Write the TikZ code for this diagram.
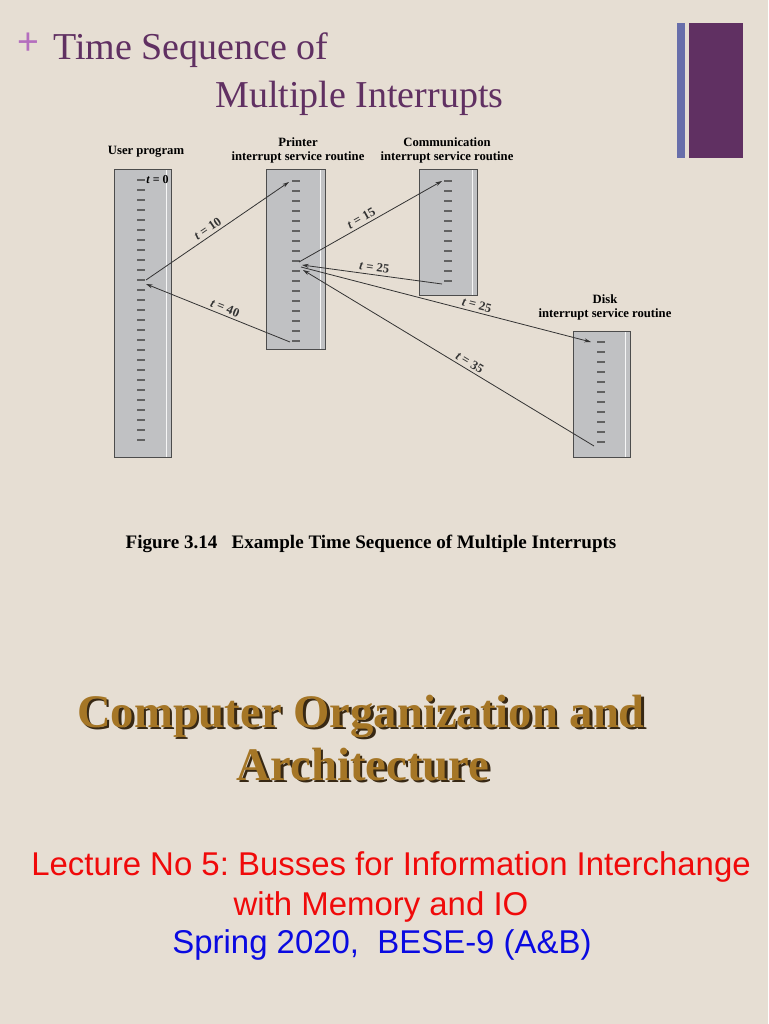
\documentclass[tikz,border=0pt]{standalone}
\usepackage{fontspec}
\setmainfont{Liberation Serif}
\newfontfamily\arialfont{Liberation Sans}
\usetikzlibrary{positioning, arrows.meta}
\definecolor{paper}{RGB}{230,222,211}
\definecolor{plum}{RGB}{96,48,98}
\definecolor{slate}{RGB}{104,110,170}
\definecolor{orchid}{RGB}{180,110,190}
\definecolor{panel}{RGB}{192,193,195}
\definecolor{gold}{RGB}{165,118,38}
\definecolor{umber}{RGB}{55,40,20}
\definecolor{lecred}{RGB}{240,10,10}
\definecolor{lecblue}{RGB}{10,10,225}
\frenchspacing
\newcommand\shadowed[1]{\makebox[0pt][l]{\hspace{2pt}\raisebox{-2pt}{\textcolor{umber}{#1}}}\textcolor{gold}{#1}}

\begin{document}
\begin{tikzpicture}[
  x=0.75pt, y=-0.75pt,
  font=\bfseries\fontsize{9.5}{10.5}\selectfont,
  isr/.style={draw=black!70, line width=1pt, fill=panel, anchor=north west, inner sep=0pt},
  strip/.style={white!85!panel, line width=1.2pt},
  tick/.style={black!62, line width=1.6pt},
  flow/.style={-{Stealth[length=5pt, width=3pt]}, black!80, line width=0.6pt},
  tlab/.style={font=\bfseries\fontsize{9.5}{10}\selectfont, sloped, above, inner sep=2pt},
  hdr/.style={align=center, inner sep=0pt},
  heading/.style={anchor=base west, text=plum, inner sep=0pt, font=\fontsize{28.5}{30}\selectfont},
  cotitle/.style={anchor=base, inner sep=0pt, font=\bfseries\fontsize{35}{40}\selectfont},
  lecline/.style={anchor=base, inner sep=0pt, font=\arialfont\mdseries\fontsize{24.7}{28}\selectfont}
]
\fill[paper] (0,0) rectangle (768,1024);
\useasboundingbox (0,0) rectangle (768,1024);

% slide heading
\node[text=orchid, font=\arialfont\fontsize{28}{30}\selectfont, inner sep=0pt] (plus) at (28,44) {+};
\node[heading] (head1) at (53,60) {Time Sequence of};
\node[heading] (head2) at (215,108) {Multiple Interrupts};
\fill[slate] (677,23) rectangle (685,158);
\fill[plum] (689,23) rectangle (743,158);

% routine columns
\node[isr, minimum width=42.75pt, minimum height=216pt] (user) at (114,169) {};
\node[isr, minimum width=44.25pt, minimum height=135pt] (prn) at (266,169) {};
\node[isr, minimum width=43.5pt, minimum height=94.5pt] (comm) at (419,169) {};
\node[isr, minimum width=42.75pt, minimum height=94.5pt] (disk) at (573,331) {};
\foreach \col in {user, prn, comm, disk}
  \draw[strip] ([xshift=-4.5pt, yshift=-1pt]\col.north east) -- ([xshift=-4.5pt, yshift=1pt]\col.south east);

\node[hdr] (userlab) at (146,152) {User program};
\node[hdr] (prnlab) at (298,150) {Printer\\interrupt service routine};
\node[hdr] (commlab) at (447,150) {Communication\\interrupt service routine};
\node[hdr] (disklab) at (605,307) {Disk\\interrupt service routine};

% instruction ticks
\foreach \i in {0,...,26}
  \draw[tick] (137,180+10*\i) -- (145,180+10*\i);
\foreach \i in {0,...,16}
  \draw[tick] (292,181+10*\i) -- (300,181+10*\i);
\foreach \i in {0,...,10}
  \draw[tick] (444,181+10*\i) -- (452,181+10*\i);
\foreach \i in {0,...,10}
  \draw[tick] (597,342+10*\i) -- (605,342+10*\i);
\node[anchor=west, inner sep=0pt, font=\bfseries\fontsize{9}{10}\selectfont] (tzero) at (146,180) {\textit{t} = 0};

% arrow end points
\coordinate (u-out) at (146,280);
\coordinate (u-in) at (146,284);
\coordinate (p-in) at (289,182);
\coordinate (p-ret) at (290,342);
\coordinate (p-out) at (299,262);
\coordinate (p-in2) at (302,265);
\coordinate (p-out2) at (301,267);
\coordinate (p-in3) at (303,270);
\coordinate (c-in) at (442,181);
\coordinate (c-ret) at (442,284);
\coordinate (d-in) at (591,342);
\coordinate (d-ret) at (594,446);

\draw[flow] (u-out) -- node[tlab, pos=0.46] {\textit{t} = 10} (p-in);
\draw[flow] (p-ret) -- node[tlab, pos=0.47] {\textit{t} = 40} (u-in);
\draw[flow] (p-out) -- node[tlab, pos=0.46] {\textit{t} = 15} (c-in);
\draw[flow] (c-ret) -- node[tlab, pos=0.49] {\textit{t} = 25} (p-in2);
\draw[flow] (p-out2) -- node[tlab, pos=0.6] {\textit{t} = 25} (d-in);
\draw[flow] (d-ret) -- node[tlab, pos=0.44] {\textit{t} = 35} (p-in3);

\node[font=\bfseries\fontsize{14.3}{16}\selectfont, inner sep=0pt] (caption) at (371,544)
  {Figure 3.14\ \ \ Example Time Sequence of Multiple Interrupts};

% course title with drop shadow
\node[cotitle] (co1) at (361,727) {\shadowed{Computer Organization and}};
\node[cotitle] (co2) at (363,780) {\shadowed{Architecture}};

\node[lecline, text=lecred] (lec1) at (391,875) {Lecture No 5: Busses for Information Interchange};
\node[lecline, text=lecred] (lec2) at (381,915) {with Memory and IO};
\node[lecline, text=lecblue] (lec3) at (382,953) {Spring 2020,\ \ BESE-9 (A\&B)};
\end{tikzpicture}
\end{document}
